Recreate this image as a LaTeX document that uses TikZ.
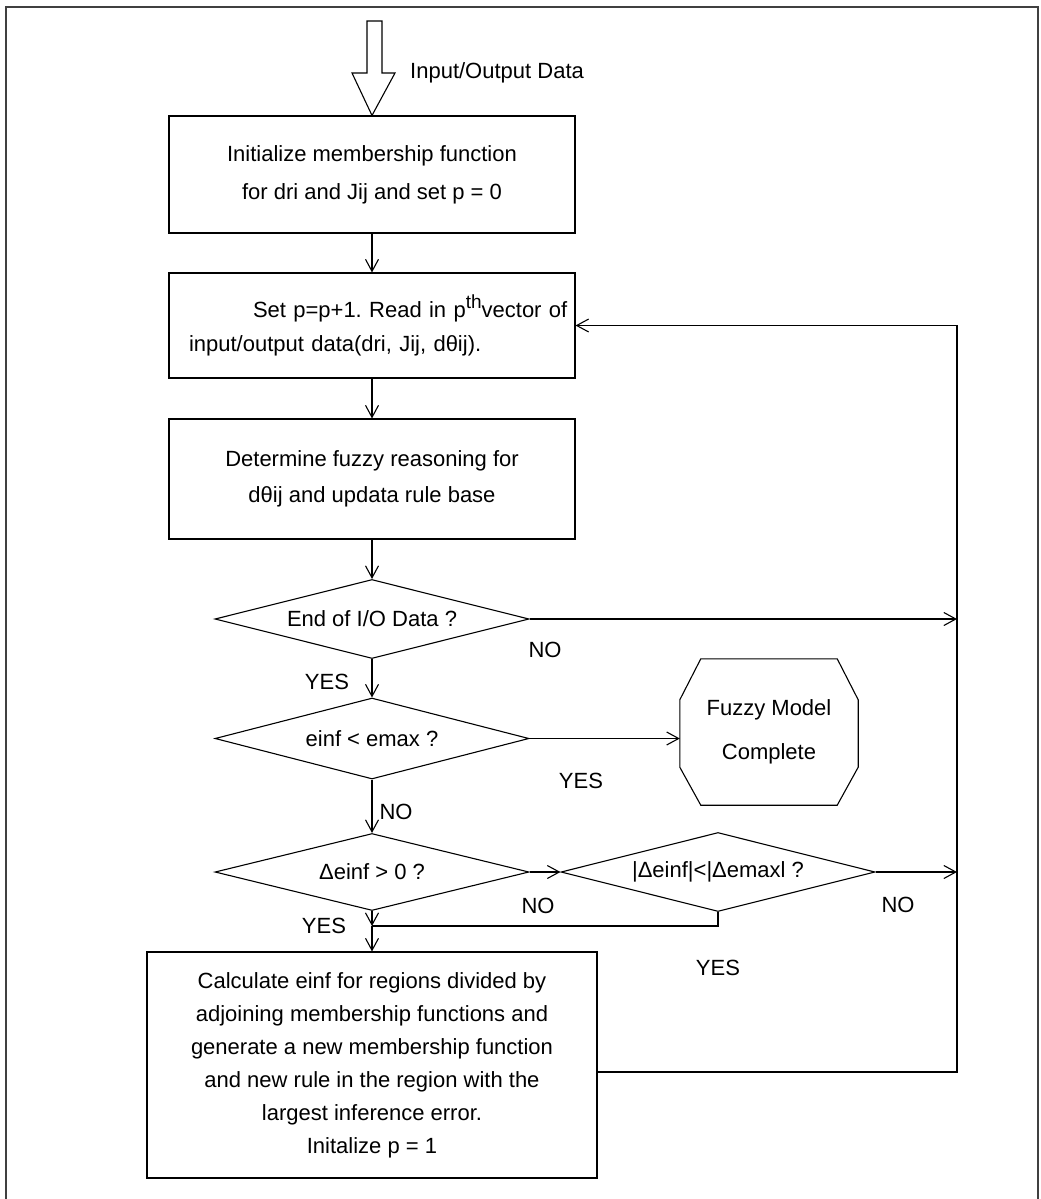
\documentclass[tikz,border=0pt]{standalone}
\usepackage{fontspec}
\setmainfont{Liberation Sans}
\usetikzlibrary{arrows.meta,shapes.geometric,calc}
\frenchspacing
\begin{document}
\begin{tikzpicture}[x=1pt,y=-1pt,
  every node/.style={font=\fontsize{22}{26}\selectfont},
  ln/.style={line width=1.1pt, black},
  arr/.style={ln, -{Straight Barb[length=12pt,width=13pt,line width=1.1pt]}},
  procbox/.style={draw, ln, rectangle, inner sep=0pt, minimum width=406pt},
  dec/.style={draw, ln, diamond, inner sep=0pt, minimum width=314pt, minimum height=79pt, shape aspect=4},
  lbl/.style={inner sep=0pt},
  frame/.style={line width=1.2pt, black!75}]
\useasboundingbox (0,0) rectangle (1041,1199);
\draw[frame] (6,1199) -- (6,7) -- (1038,7) -- (1038,1199);

% process boxes
\node[procbox, minimum height=117pt, align=center, font=\fontsize{22}{38}\selectfont] (b1) at (372,174.5)
  {Initialize membership function\\for dri and Jij and set p = 0};
\node[procbox, minimum height=105pt, text width=406pt, align=left, font=\fontsize{22}{34}\selectfont] (b2) at (372,325.5)
  {\hspace*{84pt}Set p=p+1. Read in p\raisebox{9pt}{\fontsize{19}{19}\selectfont th}vector of\\\hspace*{20pt}input/output data(dri, Jij, dθij).};
\node[procbox, minimum height=120pt, align=center, font=\fontsize{22}{36}\selectfont] (b3) at (372,479)
  {Determine fuzzy reasoning for\\dθij and updata rule base};
\node[procbox, minimum width=450pt, minimum height=226pt, align=center, font=\fontsize{22}{33}\selectfont] (b4) at (372,1065)
  {Calculate einf for regions divided by\\adjoining membership functions and\\generate a new membership function\\and new rule in the region with the\\largest inference error.\\Initalize p = 1};

% decisions
\node[dec] (d1) at (372,619) {End of I/O Data ?};
\node[dec, minimum height=81pt] (d2) at (372,738.5) {einf < emax ?};
\node[dec, minimum height=77pt] (d3) at (372,872) {Δeinf > 0 ?};
\node[dec] (d4) at (718,872) {|Δeinf|<|Δemaxl ?};

% terminal
\node[lbl, minimum width=178pt, minimum height=146pt, align=center, font=\fontsize{22}{44}\selectfont] (fm) at (769,732)
  {Fuzzy Model\\Complete};
\draw[ln] ($(fm.north west)+(21,0)$) -- ($(fm.north east)+(-21,0)$) -- ($(fm.north east)+(0,41)$)
  -- ($(fm.south east)+(0,-38)$) -- ($(fm.south east)+(-21,0)$) -- ($(fm.south west)+(21,0)$)
  -- ($(fm.south west)+(0,-38)$) -- ($(fm.north west)+(0,41)$) -- cycle;

% input arrow
\draw[ln] (367,21) -- (382,21) -- (382,73) -- (395,73) -- (b1.north) -- (352,73) -- (367,73) -- cycle;
\node[lbl, anchor=base west] (io) at (410,78) {Input/Output Data};

% helper coordinates
\coordinate (rr) at (957,325.5);
\coordinate (mrg) at (372,926);

% connectors
\draw[arr] (b1) -- (b2);
\draw[arr] (b2) -- (b3);
\draw[arr] (b3) -- (d1);
\draw[arr] (d1) -- (d2);
\draw[arr] (d2) -- (d3);
\draw[arr] (d2.east) -- (d2.east -| fm.west);
\draw[arr] (d1.east) -- (d1.east -| rr);
\draw[arr] (d3.east) -- (d4.west);
\draw[arr] (d4.east) -- (d4.east -| rr);
\draw[arr] (d3.south) -- (mrg);
\draw[ln] (d4.south) |- (mrg);
\draw[arr] (mrg) -- (b4.north);
\draw[arr] ([yshift=-7pt]b4.east) -| (rr) -- (b2.east);

% labels
\node[lbl] (no1) at (545,650) {NO};
\node[lbl] (yes1) at (327,682) {YES};
\node[lbl] (yes2) at (581,781) {YES};
\node[lbl] (no2) at (396,812) {NO};
\node[lbl] (no3) at (538,906) {NO};
\node[lbl] (yes3) at (324,926) {YES};
\node[lbl] (no4) at (898,905) {NO};
\node[lbl] (yes4) at (718,968) {YES};
\end{tikzpicture}
\end{document}
